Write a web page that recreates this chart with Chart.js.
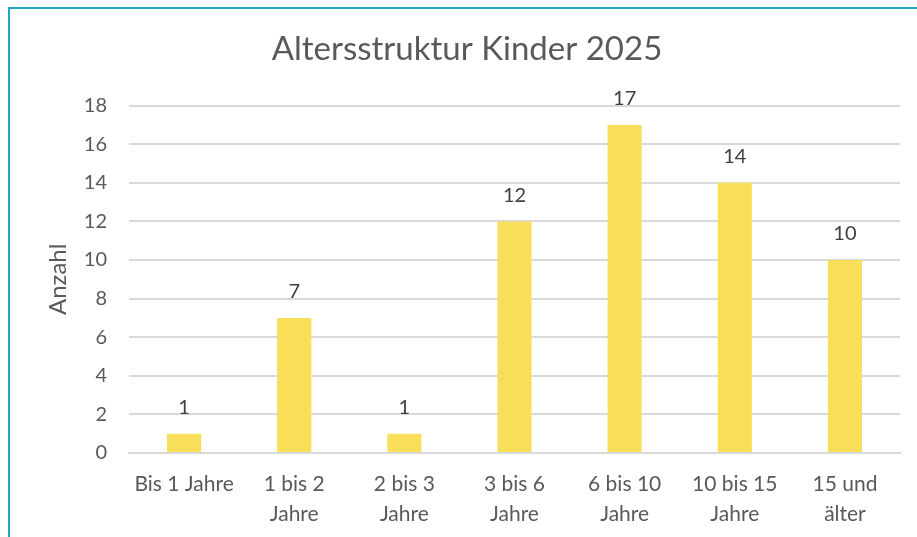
<!DOCTYPE html>
<html>
<head>
<meta charset="utf-8">
<script src="https://cdn.jsdelivr.net/npm/chart.js@4"></script>
<style>
html,body{margin:0;padding:0;background:#fff;overflow:hidden;}
#wrap{position:absolute;left:0;top:0;width:917px;height:537px;}
#frame{position:absolute;left:8px;top:7px;width:920px;height:540px;border-left:2px solid #1fa8c4;border-top:2px solid #1fa8c4;box-sizing:border-box;pointer-events:none;}
canvas{position:absolute;left:0;top:0;}
</style>
</head>
<body>
<div id="wrap"><canvas id="c" width="917" height="537"></canvas></div>
<div id="frame"></div>
<script>
const categories = [["Bis 1 Jahre"], ["1 bis 2", "Jahre"], ["2 bis 3", "Jahre"], ["3 bis 6", "Jahre"], ["6 bis 10", "Jahre"], ["10 bis 15", "Jahre"], ["15 und", "älter"]];
const counts = [1, 7, 1, 12, 17, 14, 10];
const yTicks = [0, 2, 4, 6, 8, 10, 12, 14, 16, 18];
const chartTitle = "Altersstruktur Kinder 2025";
const yTitle = "Anzahl";

const FONT = "Lato, 'Open Sans', sans-serif";
const TEXT = "#595959";

const valueLabels = {
  id: 'valueLabels',
  afterDatasetsDraw(chart) {
    const ctx = chart.ctx;
    const meta = chart.getDatasetMeta(0);
    ctx.save();
    ctx.font = "20px " + FONT;
    ctx.fillStyle = "#404040";
    ctx.textAlign = "center";
    ctx.textBaseline = "middle";
    meta.data.forEach((bar, i) => {
      ctx.fillText(String(counts[i]), bar.x, bar.y - 26);
    });
    ctx.restore();
  }
};

new Chart(document.getElementById('c'), {
  type: 'bar',
  data: {
    labels: categories,
    datasets: [{
      data: counts,
      backgroundColor: "#f9df59",
      borderWidth: 0,
      categoryPercentage: 1,
      barPercentage: 0.31
    }]
  },
  options: {
    responsive: false,
    animation: false,
    devicePixelRatio: 1,
    layout: { padding: { left: 34, right: 17, top: 0, bottom: 0 } },
    plugins: {
      legend: { display: false },
      tooltip: { enabled: false },
      title: {
        display: true,
        text: chartTitle,
        color: TEXT,
        font: { family: FONT, size: 33, weight: 'normal', lineHeight: 1.2 },
        padding: { top: 30, bottom: 36 }
      }
    },
    scales: {
      x: {
        grid: { display: false, drawTicks: false },
        border: { display: true, color: "#d9d9d9", width: 2 },
        ticks: {
          color: TEXT,
          font: { family: FONT, size: 21, lineHeight: 1.4 },
          padding: 17,
          maxRotation: 0,
          autoSkip: false
        },
        afterFit(s) { s.height = 84; }
      },
      y: {
        min: 0, max: 18,
        afterBuildTicks(s) { s.ticks = yTicks.map(v => ({ value: v })); },
        grid: { color: "#d9d9d9", lineWidth: 2, drawTicks: false },
        border: { display: false },
        ticks: {
          color: TEXT,
          font: { family: FONT, size: 20 },
          padding: 22
        },
        title: {
          display: true,
          text: yTitle,
          color: TEXT,
          font: { family: FONT, size: 24, lineHeight: 1.2 },
          padding: { top: 10, bottom: 0 }
        },
        afterFit(s) { s.width = 95; }
      }
    }
  },
  plugins: [valueLabels]
});
</script>
</body>
</html>
